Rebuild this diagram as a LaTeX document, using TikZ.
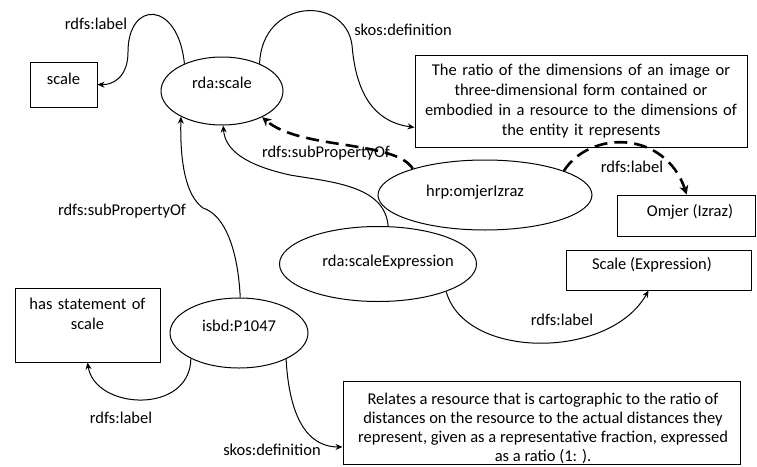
\documentclass[tikz,border=0pt]{standalone}
\usepackage{fontspec}
\setmainfont{Carlito}
\usetikzlibrary{arrows.meta,shapes.geometric}
\begin{document}
\begin{tikzpicture}[x=1pt,y=-1pt,
  every node/.style={font=\fontsize{16.5}{20}\selectfont},
  res/.style={draw, ellipse, inner sep=0pt, line width=1pt, text height=12pt},
  lit/.style={draw, rectangle, inner sep=0pt, line width=1pt, align=center},
  lbl/.style={inner sep=0pt},
  conn/.style={line width=1pt, -{Stealth[length=7pt,width=6pt]}},
  dconn/.style={line width=2.6pt, dash pattern=on 13pt off 7pt, -{Stealth[length=9pt,width=9pt]}},
]
\useasboundingbox (0,0) rectangle (757,466);

% resources (ellipses)
\node[res, minimum width=122, minimum height=68, text depth=18pt] (rdascale) at (222,91) {rda:scale};
\node[res, minimum width=214, minimum height=70, text depth=10pt] (hrp) at (485,195) {\kern-20pt hrp:omjerIzraz};
\node[res, minimum width=197, minimum height=75, text depth=8pt] (scex) at (378,264) {rda:scaleExpression\kern-20pt};
\node[res, minimum width=138, minimum height=70, text depth=16pt] (isbd) at (239,333) {isbd:P1047};

% literals (boxes)
\node[lit, minimum width=67, minimum height=45, text height=12pt, text depth=13pt] (scalebox) at (63.5,84.5) {scale};
\node[lit, minimum width=332, minimum height=92, text width=330] (def1) at (581,101)
  {The ratio of the dimensions of an image or\\ three-dimensional form contained or\\ embodied in a resource to the dimensions of\\ the entity it represents};
\node[lit, minimum width=138, minimum height=41, text height=12pt, text depth=11pt] (omjer) at (686,215.5) {Omjer (Izraz)\kern-8pt};
\node[lit, minimum width=185, minimum height=40, text height=12pt, text depth=14pt] (scexbox) at (658.5,270) {\kern-13pt Scale (Expression)};
\node[lit, minimum width=145, minimum height=74, text width=143] (hsbox) at (87.5,325)
  {has statement of\\ scale\rule[-22pt]{0pt}{22pt}};
\node[lit, minimum width=397, minimum height=83] (def2) at (541.5,422.5) {};
\node[inner sep=0pt, align=center, font=\fontsize{16.5}{19}\selectfont] (def2text) at (543,428)
  {Relates a resource that is cartographic to the ratio of\\ distances on the resource to the actual distances they\\ represent, given as a representative fraction, expressed\\ as a ratio (1: ).};

% connector labels
\node[lbl] (l1) at (96,24) {rdfs:label};
\node[lbl] (l2) at (403,30) {skos:definition};
\node[lbl] (l3) at (326,153) {rdfs:subPropertyOf};
\node[lbl] (l4) at (122,211) {rdfs:subPropertyOf};
\node[lbl] (l5) at (632,167) {rdfs:label};
\node[lbl] (l6) at (562,320) {rdfs:label};
\node[lbl] (l7) at (121,418) {rdfs:label};
\node[lbl] (l8) at (272,450) {skos:definition};

% connectors
\draw[conn] (rdascale.144) .. controls (178,0) and (128,0) .. (128,52)
  .. controls (128,78) and (112,85) .. (scalebox.east);
\draw[conn] (rdascale.36) .. controls (262,-2) and (345,-5) .. (352,45)
  .. controls (356,95) and (375,122) .. (def1.189);
\draw[dconn] (hrp.160) .. controls (395,140) and (300,150) .. (rdascale.-33);
\draw[conn] (scex.75) .. controls (385,185) and (330,182) .. (290,175)
  .. controls (245,165) and (225,150) .. (rdascale.-88);
\draw[conn] (isbd.88) .. controls (238,250) and (225,215) .. (203,208)
  .. controls (185,195) and (180,160) .. (rdascale.-148);
\draw[dconn] (hrp.17) .. controls (590,130) and (665,130) .. (omjer.88);
\draw[conn] (scex.-22) .. controls (465,360) and (610,360) .. (scexbox.-116);
\draw[conn] (isbd.-152) .. controls (190,415) and (95,410) .. (hsbox.south);
\draw[conn] (isbd.-29) .. controls (290,430) and (315,447) .. (def2.187);
\end{tikzpicture}
\end{document}
